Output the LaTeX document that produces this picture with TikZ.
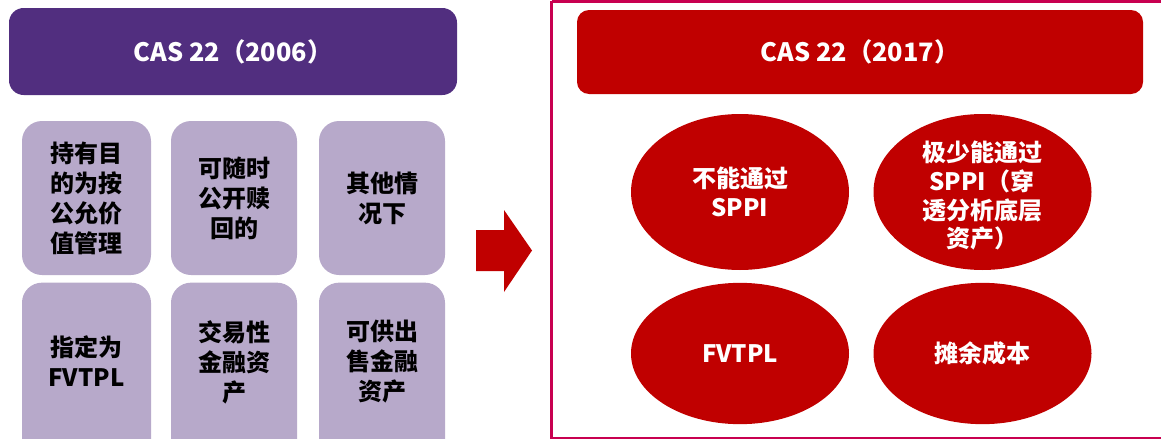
\documentclass[tikz,border=0pt]{standalone}
\usepackage{fontspec}
\setmainfont{Noto Sans CJK SC}
\usetikzlibrary{shapes.geometric}
\definecolor{hdrpurple}{RGB}{81,46,127}
\definecolor{boxpurple}{RGB}{183,169,202}
\definecolor{darkred}{RGB}{192,0,0}
\definecolor{framecol}{RGB}{200,0,80}
\tikzset{
  hdrbox/.style={inner sep=0pt, draw=none},
  hdrtext/.style={text=white, font=\bfseries\fontsize{19}{23}\selectfont, inner sep=0pt},
  smallbox/.style={fill=boxpurple, rounded corners=15pt, inner sep=0pt, minimum height=115.5pt},
  boxtext/.style={text=black, align=center, inner sep=0pt, font=\bfseries\fontsize{18}{22.5}\selectfont},
  redell/.style={ellipse, fill=darkred, inner sep=0pt, minimum width=163.5pt},
  elltext/.style={text=white, align=center, inner sep=0pt, font=\bfseries\fontsize{18}{21.5}\selectfont},
}
\begin{document}
\begin{tikzpicture}[x=0.75pt,y=-0.75pt]
\useasboundingbox (0,0) rectangle (1161,439);
\clip (0,0) rectangle (1161,439);
% left header
\node[hdrbox, fill=hdrpurple, rounded corners=11pt, minimum width=336pt, minimum height=65.25pt] (h1) at (233,51.5) {};
\node[hdrtext] (h1t) at (h1.center) {CAS 22（2006）};
% small boxes, row 1
\node[smallbox, minimum width=96.75pt] (b1) at (86.5,198) {};
\node[smallbox, minimum width=94.5pt] (b2) at (234,198) {};
\node[smallbox, minimum width=94.5pt] (b3) at (382,198) {};
% row 2 (runs off the bottom)
\node[smallbox, minimum width=96.75pt, minimum height=140pt] (b4) at (86.5,376) {};
\node[smallbox, minimum width=94.5pt, minimum height=140pt] (b5) at (234,376) {};
\node[smallbox, minimum width=94.5pt, minimum height=140pt] (b6) at (382,376) {};
\node[boxtext] (t1) at (b1.center) {持有目\\的为按\\公允价\\值管理};
\node[boxtext] (t2) at (b2.center) {可随时\\公开赎\\回的};
\node[boxtext] (t3) at (b3.center) {其他情\\况下};
\node[boxtext] (t4) at (86.5,361) {指定为\\FVTPL};
\node[boxtext] (t5) at (234,362) {交易性\\金融资\\产};
\node[boxtext] (t6) at (382,362) {可供出\\售金融\\资产};
% arrow
\fill[darkred] (476,230) -- (504,230) -- (504,210) -- (532,250.5) -- (504,292) -- (504,271) -- (476,271) -- cycle;
% frame
\draw[framecol, line width=1.9pt] (551.5,1.5) -- (1175,1.5) (551.5,1.5) -- (551.5,438) -- (1175,438);
% right header
\node[hdrbox, fill=darkred, rounded corners=9pt, minimum width=424.5pt, minimum height=63pt] (h2) at (860,52) {};
\node[hdrtext] (h2t) at (h2.center) {CAS 22（2017）};
% ellipses
\node[redell, minimum height=117pt] (e1) at (740,192) {};
\node[redell, minimum height=117pt] (e2) at (982.5,192) {};
\node[redell, minimum height=106pt] (e3) at (740,353.5) {};
\node[redell, minimum height=106pt] (e4) at (982.5,353.5) {};
\node[elltext] (et1) at (e1.center) {不能通过\\SPPI};
\node[elltext] (et2) at (982,196) {极少能通过\\SPPI（穿\\透分析底层\\资产）};
\node[elltext] (et3) at (e3.center) {FVTPL};
\node[elltext] (et4) at (e4.center) {摊余成本};
\end{tikzpicture}
\end{document}
